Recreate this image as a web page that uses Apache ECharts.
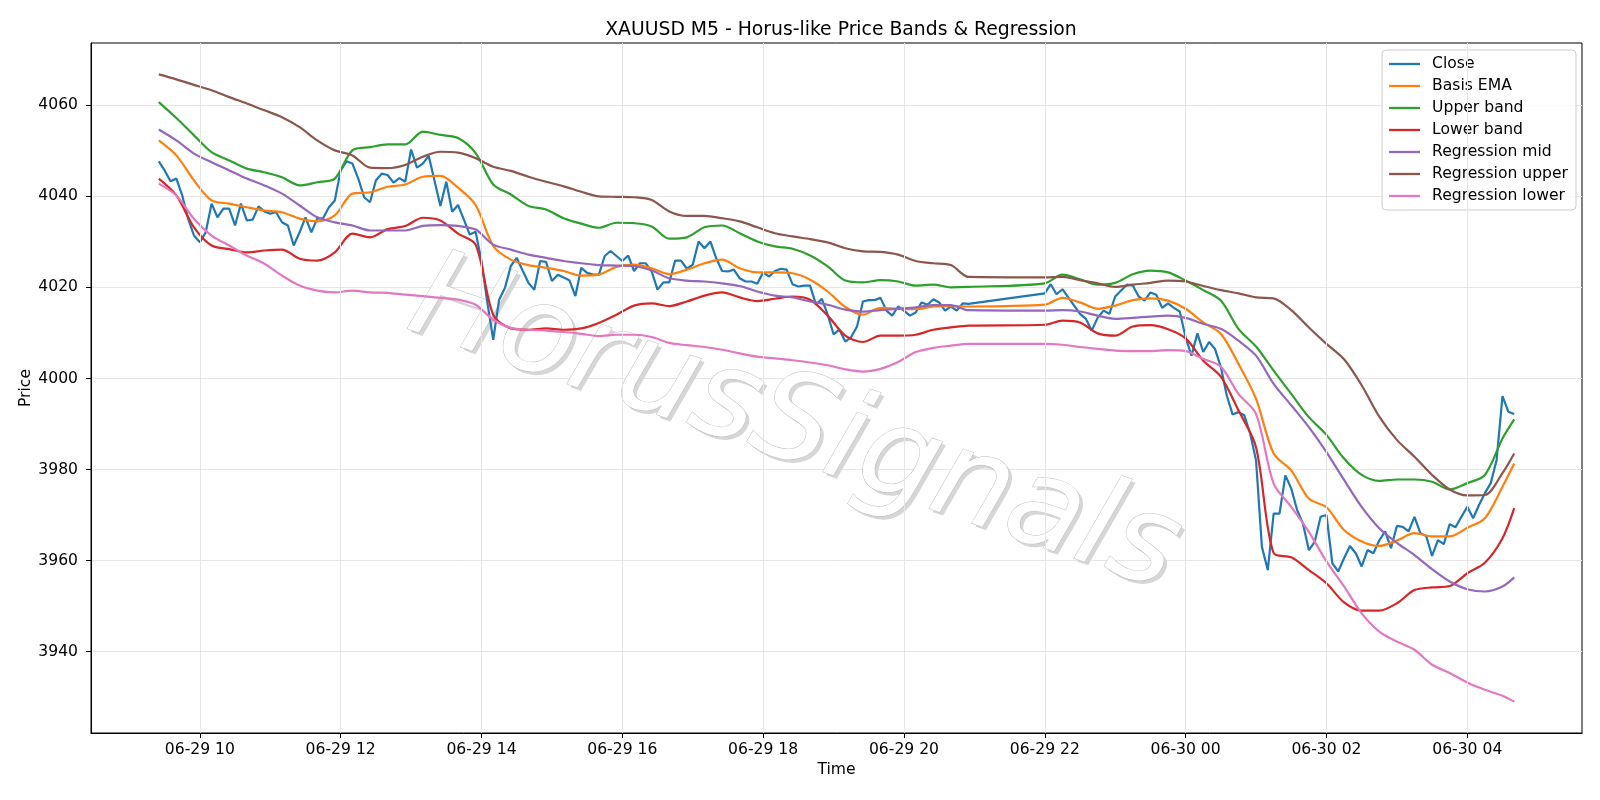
<!DOCTYPE html>
<html>
<head>
<meta charset="utf-8">
<title>XAUUSD M5 - Horus-like Price Bands & Regression</title>
<script src="https://cdn.jsdelivr.net/npm/echarts@6/dist/echarts.min.js"></script>
<style>
  html, body { margin: 0; padding: 0; background: #fff; }
  #chart { width: 1600px; height: 800px; }
</style>
</head>
<body>
<div id="chart"></div>
<script>
// session starts (local time); bars are M5, bands read every 15 min
const dayStart = new Date(2025, 5, 29, 9, 25).getTime()
const nightStart = new Date(2025, 5, 29, 22, 0).getTime()
const firstTick = new Date(2025, 5, 29, 10, 0).getTime()
const barMinutes = 5
const bandMinutes = 15
const tickMinutes = 120
const tickCount = 10

// Close, 09:25 .. 20:55
const closeDay = [
  4047.7, 4045.7, 4043.3, 4043.9, 4040.2, 4035.1, 4031.4,
  4029.9, 4032.1, 4038.4, 4035.4, 4037.3, 4037.3, 4033.6, 4038.4, 4034.7, 4034.9, 4037.8, 4036.7,
  4036.2, 4036.5, 4034.3, 4033.6, 4029.2, 4032.1, 4035.4, 4032.1, 4035.1, 4035.2, 4037.6, 4039.1,
  4045.7, 4047.7, 4047.2, 4043.9, 4039.8, 4038.7, 4043.5, 4045.0, 4044.7, 4043.0, 4044.0, 4043.2,
  4050.3, 4046.3, 4047.2, 4048.9, 4043.4, 4037.9, 4043.2, 4036.6, 4038.1, 4034.9, 4031.6, 4032.2,
  4025.8, 4016.6, 4008.5, 4017.3, 4019.9, 4024.7, 4026.5, 4023.7, 4021.0, 4019.5, 4025.8, 4025.6,
  4021.4, 4022.8, 4022.2, 4021.5, 4018.1, 4024.3, 4023.2, 4022.8, 4022.8, 4026.9, 4028.0, 4026.9,
  4025.8, 4027.0, 4023.6, 4025.3, 4025.3, 4023.5, 4019.5, 4021.1, 4021.1, 4025.9, 4025.9, 4024.1,
  4025.0, 4030.1, 4028.6, 4030.1, 4026.4, 4023.6, 4023.5, 4023.9, 4022.0, 4021.3, 4021.3, 4020.8,
  4023.3, 4022.4, 4023.6, 4024.1, 4023.9, 4020.7, 4020.2, 4020.4, 4020.4, 4016.2, 4017.5, 4014.0,
  4009.7, 4010.7, 4008.1, 4009.1, 4011.4, 4016.9, 4017.2, 4017.2, 4017.7, 4014.9, 4013.8, 4015.8,
  4014.9, 4013.8, 4014.5, 4016.7, 4016.2, 4017.4, 4016.7, 4014.9, 4015.8, 4014.9, 4016.5, 4016.4
]
// Close, 22:00 .. 04:40
const closeNight = [
  4018.7, 4020.7, 4018.5, 4019.6, 4017.8, 4016.0, 4014.2, 4013.1, 4010.5, 4013.3, 4014.9, 4014.2,
  4018.0, 4019.3, 4020.6, 4020.4, 4018.0, 4017.1, 4018.9, 4018.4, 4015.5, 4016.5, 4015.5, 4014.7,
  4009.0, 4005.0, 4009.9, 4005.8, 4008.0, 4006.5, 4002.5, 3996.3, 3992.1, 3992.6, 3991.9, 3987.9,
  3982.0, 3963.0, 3957.9, 3970.3, 3970.3, 3978.7, 3975.8, 3971.1, 3968.1, 3962.3, 3964.1, 3969.6,
  3970.0, 3959.4, 3957.6, 3960.5, 3963.2, 3961.6, 3958.7, 3962.3, 3961.6, 3964.4, 3966.4, 3962.7,
  3967.6, 3967.4, 3966.4, 3969.6, 3966.0, 3965.4, 3961.0, 3964.5, 3963.6, 3968.0, 3967.3, 3969.6,
  3971.8, 3969.3, 3972.2, 3974.8, 3977.0, 3982.1, 3996.1, 3992.7, 3992.2
]

// bands: day 09:25..20:55 every 15 min, night 22:00..04:30 every 15 min + last bar 04:40
const emaDay = [
  4052.3, 4049.0, 4043.5, 4039.1, 4038.4, 4037.6, 4036.9, 4036.5, 4035.1, 4034.5,
  4035.8, 4040.6, 4040.9, 4042.1, 4042.6, 4044.3, 4044.5, 4041.9, 4038.1, 4029.1,
  4026.1, 4024.9, 4024.3, 4023.6, 4022.6, 4022.8, 4024.5, 4025.0, 4024.2, 4022.9,
  4023.9, 4025.3, 4026.1, 4024.2, 4023.3, 4023.3, 4023.1, 4021.7, 4019.1, 4015.7,
  4014.0, 4015.5, 4015.3, 4015.2, 4015.8, 4015.9, 4015.8
]
const emaNight = [
  4016.2, 4017.7, 4016.7, 4015.3, 4016.0, 4017.2, 4017.6, 4017.1,
  4015.3, 4012.3, 4009.8, 4003.2, 3995.5, 3983.5, 3979.8, 3973.6,
  3971.7, 3966.7, 3964.2, 3963.2, 3964.4, 3966.0, 3965.3, 3965.3,
  3967.2, 3969.3, 3976.2, 3981.3
]
const upperDay = [
  4060.7, 4057.2, 4053.4, 4049.7, 4047.9, 4046.1, 4045.3, 4044.2, 4042.4, 4043.1,
  4043.9, 4050.1, 4050.8, 4051.4, 4051.4, 4054.2, 4053.5, 4052.8, 4049.5, 4042.6,
  4040.4, 4037.9, 4037.1, 4035.2, 4034.0, 4033.1, 4034.2, 4034.1, 4033.4, 4030.7,
  4031.0, 4033.2, 4033.6, 4031.9, 4030.1, 4029.0, 4028.5, 4027.0, 4024.6, 4021.5,
  4021.1, 4021.6, 4021.3, 4020.4, 4020.6, 4020.0, 4020.1
]
const upperNight = [
  4020.9, 4022.8, 4021.8, 4020.6, 4021.0, 4022.9, 4023.7, 4023.3,
  4021.5, 4019.4, 4017.1, 4010.9, 4007.0, 4001.7, 3996.6, 3991.5,
  3987.6, 3982.4, 3978.8, 3977.5, 3977.8, 3977.8, 3977.3, 3975.6,
  3977.0, 3978.8, 3986.8, 3991.0
]
const lowerDay = [
  4043.9, 4040.2, 4033.2, 4029.2, 4028.4, 4027.7, 4028.1, 4028.3, 4026.3, 4025.9,
  4027.7, 4031.8, 4031.0, 4032.8, 4033.5, 4035.3, 4034.7, 4031.8, 4029.4, 4014.0,
  4011.0, 4010.7, 4011.0, 4010.7, 4011.0, 4012.2, 4014.0, 4016.0, 4016.5, 4015.9,
  4016.9, 4018.2, 4018.9, 4017.8, 4017.0, 4017.5, 4018.0, 4017.3, 4013.8, 4009.4,
  4008.0, 4009.4, 4009.4, 4009.6, 4010.7, 4011.2, 4011.6
]
const lowerNight = [
  4011.8, 4012.7, 4012.3, 4009.9, 4009.4, 4011.4, 4011.7, 4010.8,
  4008.8, 4003.9, 4000.4, 3993.0, 3984.9, 3961.6, 3960.7, 3957.9,
  3955.0, 3950.8, 3949.0, 3949.0, 3950.6, 3953.5, 3954.1, 3954.4,
  3957.2, 3959.5, 3964.9, 3971.5
]
const regMidDay = [
  4054.7, 4052.3, 4049.4, 4047.5, 4045.7, 4043.9, 4042.4, 4040.6, 4038.0, 4035.4,
  4034.3, 4033.6, 4032.5, 4032.5, 4032.5, 4033.5, 4033.7, 4033.5, 4032.7, 4029.4,
  4028.3, 4027.2, 4026.5, 4025.8, 4025.3, 4024.9, 4024.8, 4024.7, 4023.7, 4022.0,
  4021.5, 4021.3, 4020.9, 4020.3, 4019.1, 4018.2, 4017.8, 4016.9, 4016.2, 4015.1,
  4014.7, 4015.0, 4015.3, 4015.6, 4016.1, 4016.1, 4015.0
]
const regMidNight = [
  4014.9, 4015.0, 4014.7, 4013.8, 4013.1, 4013.3, 4013.6, 4013.8,
  4013.3, 4012.0, 4010.9, 4008.3, 4005.0, 3998.8, 3994.1, 3989.3,
  3983.8, 3977.7, 3971.8, 3967.1, 3963.9, 3961.2, 3958.1, 3955.4,
  3953.7, 3953.2, 3954.3, 3956.3
]
const regUpperDay = [
  4066.8, 4065.7, 4064.5, 4063.3, 4061.8, 4060.4, 4058.9, 4057.4, 4055.2, 4052.3,
  4050.1, 4049.0, 4046.3, 4046.2, 4046.9, 4048.7, 4049.8, 4049.6, 4048.4, 4046.5,
  4045.6, 4044.3, 4043.2, 4042.2, 4041.0, 4040.0, 4039.9, 4039.8, 4039.2, 4036.7,
  4035.7, 4035.7, 4035.2, 4034.5, 4033.2, 4031.9, 4031.2, 4030.6, 4029.9, 4028.6,
  4027.9, 4027.8, 4027.2, 4025.8, 4025.3, 4024.9, 4022.3
]
const regUpperNight = [
  4022.2, 4022.3, 4021.6, 4020.9, 4020.1, 4020.6, 4021.0, 4021.5,
  4021.3, 4020.3, 4019.4, 4018.7, 4017.8, 4017.6, 4015.0, 4011.2,
  4007.6, 4004.2, 3998.5, 3991.6, 3986.5, 3982.8, 3978.8, 3975.6,
  3974.3, 3974.4, 3979.2, 3983.5
]
const regLowerDay = [
  4042.8, 4040.2, 4035.1, 4031.4, 4029.2, 4027.0, 4025.2, 4022.6, 4020.4, 4019.3,
  4018.9, 4019.3, 4018.9, 4018.8, 4018.4, 4018.1, 4017.7, 4017.3, 4016.2, 4012.9,
  4011.1, 4010.7, 4010.5, 4010.2, 4009.8, 4009.3, 4009.6, 4009.6, 4009.1, 4007.8,
  4007.3, 4006.9, 4006.3, 4005.5, 4004.8, 4004.4, 4004.0, 4003.5, 4002.9, 4002.0,
  4001.5, 4002.1, 4003.6, 4005.8, 4006.7, 4007.2, 4007.6
]
const regLowerNight = [
  4007.6, 4007.4, 4006.9, 4006.5, 4006.1, 4006.0, 4006.0, 4006.2,
  4006.0, 4004.3, 4002.6, 3996.6, 3992.2, 3976.9, 3971.8, 3966.3,
  3959.8, 3954.3, 3948.4, 3944.4, 3942.2, 3940.4, 3937.1, 3935.3,
  3933.2, 3931.6, 3930.3, 3929.0
]

const yTicks = [3940, 3960, 3980, 4000, 4020, 4040, 4060]
const seriesNames = ['Close', 'Basis EMA', 'Upper band', 'Lower band',
  'Regression mid', 'Regression upper', 'Regression lower']

function stepTimes(start, count, minutes) {
  return Array.from({ length: count }, (_, i) => start + i * minutes * 60000)
}

const closeTimes = stepTimes(dayStart, closeDay.length, barMinutes)
  .concat(stepTimes(nightStart, closeNight.length, barMinutes))
const lastBar = closeTimes[closeTimes.length - 1]
const bandTimes = stepTimes(dayStart, upperDay.length, bandMinutes)
  .concat(stepTimes(nightStart, upperNight.length - 1, bandMinutes), [lastBar])
const xTicks = stepTimes(firstTick, tickCount, tickMinutes)

const pair = (times, values) => times.map((t, i) => [t, values[i]])

// matplotlib style 5% margins
const xPad = (lastBar - dayStart) * 0.05
const allValues = [].concat(closeDay, closeNight, upperDay, upperNight, lowerDay, lowerNight,
  regMidDay, regMidNight, regUpperDay, regUpperNight, regLowerDay, regLowerNight)
const yLo = Math.min(...allValues)
const yHi = Math.max(...allValues)
const yPad = (yHi - yLo) * 0.05

const font = 'DejaVu Sans'
const tickFont = 15.6
const gridColor = '#e6e6e6'
const pad2 = (n) => String(n).padStart(2, '0')
function timeLabel(v) {
  const d = new Date(v)
  return pad2(d.getMonth() + 1) + '-' + pad2(d.getDate()) + ' ' + pad2(d.getHours())
}

function line(name, color, data, smooth) {
  return {
    type: 'line',
    name,
    data,
    symbol: 'none',
    smooth,
    z: 3,
    lineStyle: { width: 2.2, color },
    itemStyle: { color },
    emphasis: { disabled: true }
  }
}

// watermark: grey offset copy under a white, grey-outlined copy
const markAngle = -19 * Math.PI / 180
const markFont = 'italic 123px "DejaVu Sans"'
function watermark(dx, dy, fill, stroke) {
  return {
    type: 'text',
    x: 794 + dx,
    y: 428 + dy,
    rotation: markAngle,
    z: 1,
    silent: true,
    style: {
      text: 'HorusSignals',
      font: markFont,
      textAlign: 'center',
      textVerticalAlign: 'middle',
      fill,
      stroke,
      lineWidth: stroke ? 1 : 0
    }
  }
}

const chart = echarts.init(document.getElementById('chart'))
chart.setOption({
  animation: false,
  title: {
    text: 'XAUUSD M5 - Horus-like Price Bands & Regression',
    left: 836,
    top: 16,
    textAlign: 'center',
    textStyle: { fontFamily: font, fontSize: 18.8, fontWeight: 'normal', color: '#000' }
  },
  legend: {
    data: seriesNames,
    orient: 'vertical',
    right: 24,
    top: 50,
    icon: 'rect',
    itemWidth: 31,
    itemHeight: 2.3,
    itemGap: 6,
    padding: [6, 8, 6, 7],
    backgroundColor: 'rgba(255,255,255,0.8)',
    borderColor: '#cccccc',
    borderWidth: 1,
    borderRadius: 4,
    textStyle: { fontFamily: font, fontSize: tickFont, lineHeight: 16, color: '#000', padding: [0, 0, 0, 7] }
  },
  grid: {
    left: 91, right: 18, top: 43, bottom: 67,
    show: true, borderColor: '#000', borderWidth: 1,
    containLabel: false, outerBoundsMode: 'none'
  },
  xAxis: {
    type: 'value',
    min: dayStart - xPad,
    max: lastBar + xPad,
    name: 'Time',
    nameLocation: 'middle',
    nameGap: 29,
    nameMoveOverlap: false,
    nameTextStyle: { fontFamily: font, fontSize: tickFont, color: '#000' },
    axisLine: { show: true, onZero: false, lineStyle: { color: '#000', width: 1 } },
    axisTick: { show: true, length: 5, customValues: xTicks, lineStyle: { color: '#000' } },
    axisLabel: {
      customValues: xTicks,
      formatter: timeLabel, fontFamily: font, fontSize: tickFont, color: '#000', margin: 9
    },
    splitLine: { show: false }
  },
  yAxis: {
    type: 'value',
    min: yLo - yPad,
    max: yHi + yPad,
    minInterval: yTicks[1] - yTicks[0],
    maxInterval: yTicks[1] - yTicks[0],
    name: 'Price',
    nameLocation: 'middle',
    nameGap: 57,
    nameMoveOverlap: false,
    nameTextStyle: { fontFamily: font, fontSize: tickFont, color: '#000' },
    axisLine: { show: true, lineStyle: { color: '#000', width: 1 } },
    axisTick: { show: true, length: 5, customValues: yTicks, lineStyle: { color: '#000' } },
    axisLabel: {
      customValues: yTicks,
      formatter: (v) => String(v),
      fontFamily: font, fontSize: tickFont, color: '#000', margin: 13
    },
    splitLine: { show: true, lineStyle: { color: gridColor, width: 1 } }
  },
  graphic: [
    watermark(3.5, 3.5, '#d6d6d6', null),
    watermark(0, 0, '#ffffff', '#bdbdbd')
  ],
  series: [
    // vertical grid lines at the time ticks
    {
      type: 'line',
      data: [],
      z: 0,
      silent: true,
      markLine: {
        silent: true,
        symbol: 'none',
        label: { show: false },
        lineStyle: { color: gridColor, width: 1, type: 'solid' },
        emphasis: { disabled: true },
        data: xTicks.map((t) => ({ xAxis: t }))
      }
    },
    line('Close', '#1f77b4', pair(closeTimes, closeDay.concat(closeNight)), false),
    line('Basis EMA', '#ff7f0e', pair(bandTimes, emaDay.concat(emaNight)), 0.3),
    line('Upper band', '#2ca02c', pair(bandTimes, upperDay.concat(upperNight)), 0.3),
    line('Lower band', '#d62728', pair(bandTimes, lowerDay.concat(lowerNight)), 0.3),
    line('Regression mid', '#9467bd', pair(bandTimes, regMidDay.concat(regMidNight)), 0.3),
    line('Regression upper', '#8c564b', pair(bandTimes, regUpperDay.concat(regUpperNight)), 0.3),
    line('Regression lower', '#e377c2', pair(bandTimes, regLowerDay.concat(regLowerNight)), 0.3)
  ]
})
</script>
</body>
</html>
